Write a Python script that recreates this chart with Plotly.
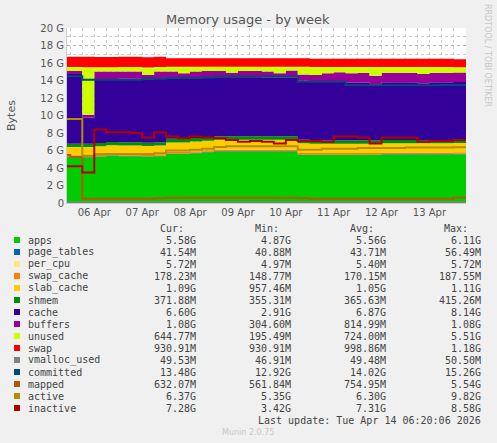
import plotly.graph_objects as go
from datetime import datetime, timedelta

# czas: co 6 godzin, ostatni punkt = ostatnia aktualizacja
t0 = datetime(2026, 4, 5, 18, 0)
times = [t0 + timedelta(hours=6 * i) for i in range(34)] + [datetime(2026, 4, 14, 6, 20)]

# wartości w G
apps = [5.2, 5.2, 5.2, 5.3, 5.4, 5.35, 5.35, 5.3, 5.35, 5.6, 5.6, 5.7, 5.8, 5.9, 5.9, 5.9, 5.9,
        5.9, 5.9, 5.9, 5.5, 5.5, 5.5, 5.5, 5.5, 5.5, 5.5, 5.55, 5.55, 5.55, 5.55, 5.55, 5.55, 5.58, 5.58]
page_tables = [0.056, 0.055, 0.05] + [0.044] * 20 + [0.042] * 12
per_cpu = [0.005] * 35
swap_cache = [0.15] * 5 + [0.17] * 20 + [0.178] * 10
slab_cache = [1.0] * 9 + [1.1] * 12 + [1.05] * 13 + [1.09]
shmem = [0.37] * 9 + [0.41] * 12 + [0.37] * 14
cache = [7.95, 7.95, 3.0, 7.3, 7.2, 7.25, 7.25, 7.25, 7.25, 6.9, 6.9, 6.8, 6.75, 6.65, 6.65, 6.65, 6.65,
         6.7, 6.7, 6.7, 6.75, 6.8, 6.8, 6.8, 6.6, 6.6, 6.4, 6.6, 6.6, 6.6, 6.5, 6.6, 6.6, 6.6, 6.6]
buffers = [0.35, 0.35, 0.3, 0.85, 0.85, 0.85, 0.85, 0.5, 0.85, 0.8, 0.6, 0.8, 0.8, 0.8, 0.6, 0.8, 0.8,
           0.7, 0.5, 0.8, 0.7, 0.7, 0.9, 1.0, 1.1, 1.1, 1.0, 1.1, 1.1, 1.1, 1.05, 1.1, 1.1, 1.08, 1.08]
unused = [0.45, 0.45, 5.45, 0.5, 0.5, 0.5, 0.5, 0.85, 0.5, 0.55, 0.75, 0.55, 0.5, 0.5, 0.7, 0.5, 0.5,
          0.55, 0.75, 0.45, 0.9, 0.9, 0.7, 0.6, 0.7, 0.7, 1.0, 0.65, 0.65, 0.65, 0.8, 0.65, 0.65, 0.6, 0.64]
swap = [1.18] * 9 + [0.95] * 24 + [0.93, 0.93]

vmalloc_used = [0.05] * 35
committed = [14.5, 14.5, 14.1, 14.1, 14.1, 14.1, 14.1, 14.2, 14.2, 14.3, 14.3, 14.3, 14.35, 14.45, 14.45,
             14.45, 14.45, 14.45, 14.45, 14.45, 13.85, 13.85, 13.85, 13.85, 13.45, 13.45, 13.45, 13.45,
             13.45, 13.45, 13.45, 13.45, 13.5, 13.48, 13.48]
mapped = [5.5, 5.3, 0.5, 0.5, 0.5, 0.5, 0.5, 0.5, 0.55, 0.6, 0.6, 0.6, 0.6, 0.6, 0.6, 0.6, 0.6,
          0.6, 0.6, 0.6, 0.55, 0.5, 0.5, 0.5, 0.5, 0.5, 0.5, 0.5, 0.5, 0.5, 0.5, 0.5, 0.5, 0.63, 0.63]
active = [9.6, 9.6, 5.4, 5.6, 5.6, 5.6, 5.6, 5.6, 5.7, 6.0, 6.0, 6.1, 6.2, 6.4, 6.5, 6.5, 6.5,
          6.5, 6.5, 6.5, 6.1, 6.1, 6.2, 6.2, 6.2, 6.3, 6.3, 6.3, 6.3, 6.35, 6.35, 6.35, 6.35, 6.37, 6.37]
inactive = [4.2, 4.2, 3.5, 8.4, 8.1, 8.1, 8.0, 7.5, 8.1, 7.6, 7.4, 7.6, 7.5, 7.4, 7.2, 7.0, 7.1,
            7.0, 6.8, 7.2, 7.1, 7.1, 7.0, 7.6, 7.6, 7.5, 6.8, 7.5, 7.5, 7.5, 7.0, 7.1, 7.1, 7.2, 7.28]

stacked = [('apps', apps, '#00CC00'), ('page_tables', page_tables, '#0066B3'),
           ('per_cpu', per_cpu, '#FFE680'), ('swap_cache', swap_cache, '#FF8000'),
           ('slab_cache', slab_cache, '#FFCC00'), ('shmem', shmem, '#008F00'),
           ('cache', cache, '#330099'), ('buffers', buffers, '#990099'),
           ('unused', unused, '#CCFF00'), ('swap', swap, '#FF0000')]
lines = [('vmalloc_used', vmalloc_used, '#808080'), ('committed', committed, '#00487D'),
         ('mapped', mapped, '#B35A00'), ('active', active, '#B38F00'),
         ('inactive', inactive, '#B30000')]

# legenda: cur, min, avg, max
stats = [('5.58G', '4.87G', '5.56G', '6.11G'), ('41.54M', '40.88M', '43.71M', '56.49M'),
         ('5.72M', '4.97M', '5.40M', '5.72M'), ('178.23M', '148.77M', '170.15M', '187.55M'),
         ('1.09G', '957.46M', '1.05G', '1.11G'), ('371.88M', '355.31M', '365.63M', '415.26M'),
         ('6.60G', '2.91G', '6.87G', '8.14G'), ('1.08G', '304.60M', '814.99M', '1.08G'),
         ('644.77M', '195.49M', '724.00M', '5.51G'), ('930.91M', '930.91M', '998.86M', '1.18G'),
         ('49.53M', '46.91M', '49.48M', '50.50M'), ('13.48G', '12.92G', '14.02G', '15.26G'),
         ('632.07M', '561.84M', '754.95M', '5.54G'), ('6.37G', '5.35G', '6.30G', '9.82G'),
         ('7.28G', '3.42G', '7.31G', '8.58G')]

y_ticks = list(range(0, 21, 2))
y_labels = ['0'] + [f'{v} G' for v in y_ticks[1:]]
day_ticks = [datetime(2026, 4, d, 12) for d in range(6, 14)]
day_labels = [f'{d:02d} Apr' for d in range(6, 14)]

fig = go.Figure()
for name, vals, col in stacked:
    fig.add_trace(go.Scatter(x=times, y=vals, name=name, stackgroup='mem', mode='lines',
                             line=dict(width=0, shape='hv', color=col), fillcolor=col))
for name, vals, col in lines:
    fig.add_trace(go.Scatter(x=times, y=vals, name=name, mode='lines',
                             line=dict(width=2, shape='hv', color=col)))

W, H = 497, 443
L, R, T, B = 67, 466, 28, 203
grid_major = 'rgba(220,140,140,0.7)'
grid_minor = 'rgba(170,170,170,0.6)'

fig.update_layout(width=W, height=H, showlegend=False, paper_bgcolor='#F0F0F0', plot_bgcolor='white',
                  margin=dict(l=L, r=W - R, t=T, b=H - B),
                  font=dict(family='DejaVu Sans', size=10, color='#555555'))
fig.update_xaxes(range=[datetime(2026, 4, 5, 22, 20), datetime(2026, 4, 14, 6, 20)],
                 tickvals=day_ticks, ticktext=day_labels, showgrid=False, ticks='', zeroline=False,
                 showline=True, linecolor='#CCCCCC',
                 minor=dict(showgrid=True, dtick=6 * 3600000, tick0='2026-04-06', gridcolor=grid_minor,
                            griddash='dot', gridwidth=1))
fig.update_yaxes(range=[0, 20], tickvals=y_ticks, ticktext=y_labels, gridcolor=grid_major,
                 griddash='dot', zeroline=False, showline=True, linecolor='#CCCCCC',
                 title=dict(text='Bytes', standoff=22, font=dict(size=11)),
                 minor=dict(showgrid=True, dtick=1, gridcolor=grid_minor, griddash='dot'))

ann = []
def txt(x, y, s, anchor='left', color='#444444', size=10, family='DejaVu Sans Mono', angle=0):
    ann.append(dict(x=x, y=y, xref='paper', yref='paper', text=s, showarrow=False, xanchor=anchor,
                    yanchor='middle', textangle=angle, font=dict(family=family, size=size, color=color)))

def px(x, y):
    return (x - L) / (R - L), (B - y) / (B - T)

x, y = px(248, 19)
txt(x, y, 'Memory usage - by week', 'center', '#555555', 13, 'DejaVu Sans')
x, y = px(487, 55)
txt(x, y, 'RRDTOOL / TOBI OETIKER', 'center', '#C8C8C8', 8, 'DejaVu Sans', 90)

for hx, h in [(186, 'Cur:'), (281, 'Min:'), (376, 'Avg:'), (470, 'Max:')]:
    x, y = px(hx, 228)
    txt(x, y, h, 'right')

shapes = []
for i, ((name, _, col), st) in enumerate(zip(stacked + lines, stats)):
    ry = 240 + 12 * i
    x0, y0 = px(14, ry - 3)
    x1, y1 = px(20, ry + 3)
    shapes.append(dict(type='rect', xref='paper', yref='paper', x0=x0, x1=x1, y0=y1, y1=y0,
                       fillcolor=col, line=dict(width=0)))
    x, y = px(26, ry)
    txt(x, y, name)
    for cx, v in zip([198, 293, 388, 483], st):
        x, _ = px(cx, ry)
        txt(x, y, v, 'right')

x, y = px(483, 420)
txt(x, y, 'Last update: Tue Apr 14 06:20:06 2026', 'right')
x, y = px(248, 432)
txt(x, y, 'Munin 2.0.75', 'center', '#C8C8C8', 8, 'DejaVu Sans')

fig.update_layout(annotations=ann, shapes=shapes)
# bez marginesu strony, żeby wykres zaczynał się w (0, 0)
fig.write_html('out.html', config={'displayModeBar': False},
               post_script="document.body.style.margin='0';document.body.style.overflow='hidden';")
